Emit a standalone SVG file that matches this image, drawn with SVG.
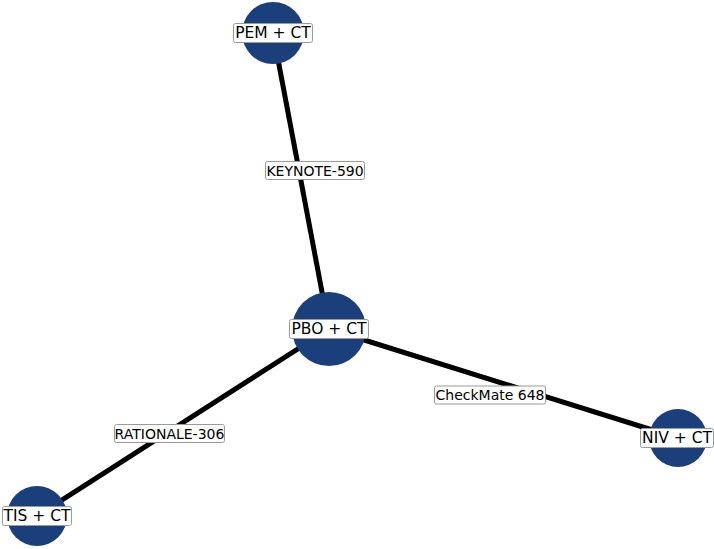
<svg xmlns="http://www.w3.org/2000/svg" width="714" height="549" viewBox="0 0 714 549">
<style>
.node circle{fill:#1b3f7a}
.lbl rect{fill:#fff;stroke:#9a9a9a;stroke-width:1}
.nt{font-family:"DejaVu Sans",sans-serif;font-size:15.5px;fill:#000;text-anchor:middle;dominant-baseline:central}
.et{font-family:"DejaVu Sans",sans-serif;font-size:14px;fill:#000;text-anchor:middle;dominant-baseline:central}
.edge{stroke:#000;stroke-width:5;fill:none}
</style>
<rect width="714" height="549" fill="#fff"/>
<g id="connectors">
<line class="edge" x1="273" y1="33" x2="329" y2="329"/>
<line class="edge" x1="329" y1="329" x2="678" y2="438"/>
<line class="edge" x1="329" y1="329" x2="37" y2="516"/>
<g class="lbl"><rect x="265.5" y="161.5" width="99" height="18" rx="2"/><text class="et" x="315" y="170.5">KEYNOTE-590</text></g>
<g class="lbl"><rect x="434.5" y="386" width="111" height="18" rx="2"/><text class="et" x="490" y="395">CheckMate 648</text></g>
<g class="lbl"><rect x="114.5" y="424.5" width="110" height="18" rx="2"/><text class="et" x="169.5" y="433.5">RATIONALE-306</text></g>
</g>
<g id="node-pem" class="node"><circle cx="273" cy="33" r="31"/><g class="lbl"><rect x="233.5" y="23.5" width="79" height="19" rx="2"/><text class="nt" x="273" y="33">PEM + CT</text></g></g>
<g id="node-pbo" class="node"><circle cx="329" cy="329" r="37"/><g class="lbl"><rect x="289.5" y="319.5" width="79" height="19" rx="2"/><text class="nt" x="329" y="329">PBO + CT</text></g></g>
<g id="node-tis" class="node"><circle cx="37" cy="516" r="30"/><g class="lbl"><rect x="2.5" y="506.5" width="69" height="19" rx="2"/><text class="nt" x="37" y="516">TIS + CT</text></g></g>
<g id="node-niv" class="node"><circle cx="678" cy="438" r="29"/><g class="lbl"><rect x="640.5" y="428.5" width="73" height="19" rx="2"/><text class="nt" x="677" y="438">NIV + CT</text></g></g>
</svg>
